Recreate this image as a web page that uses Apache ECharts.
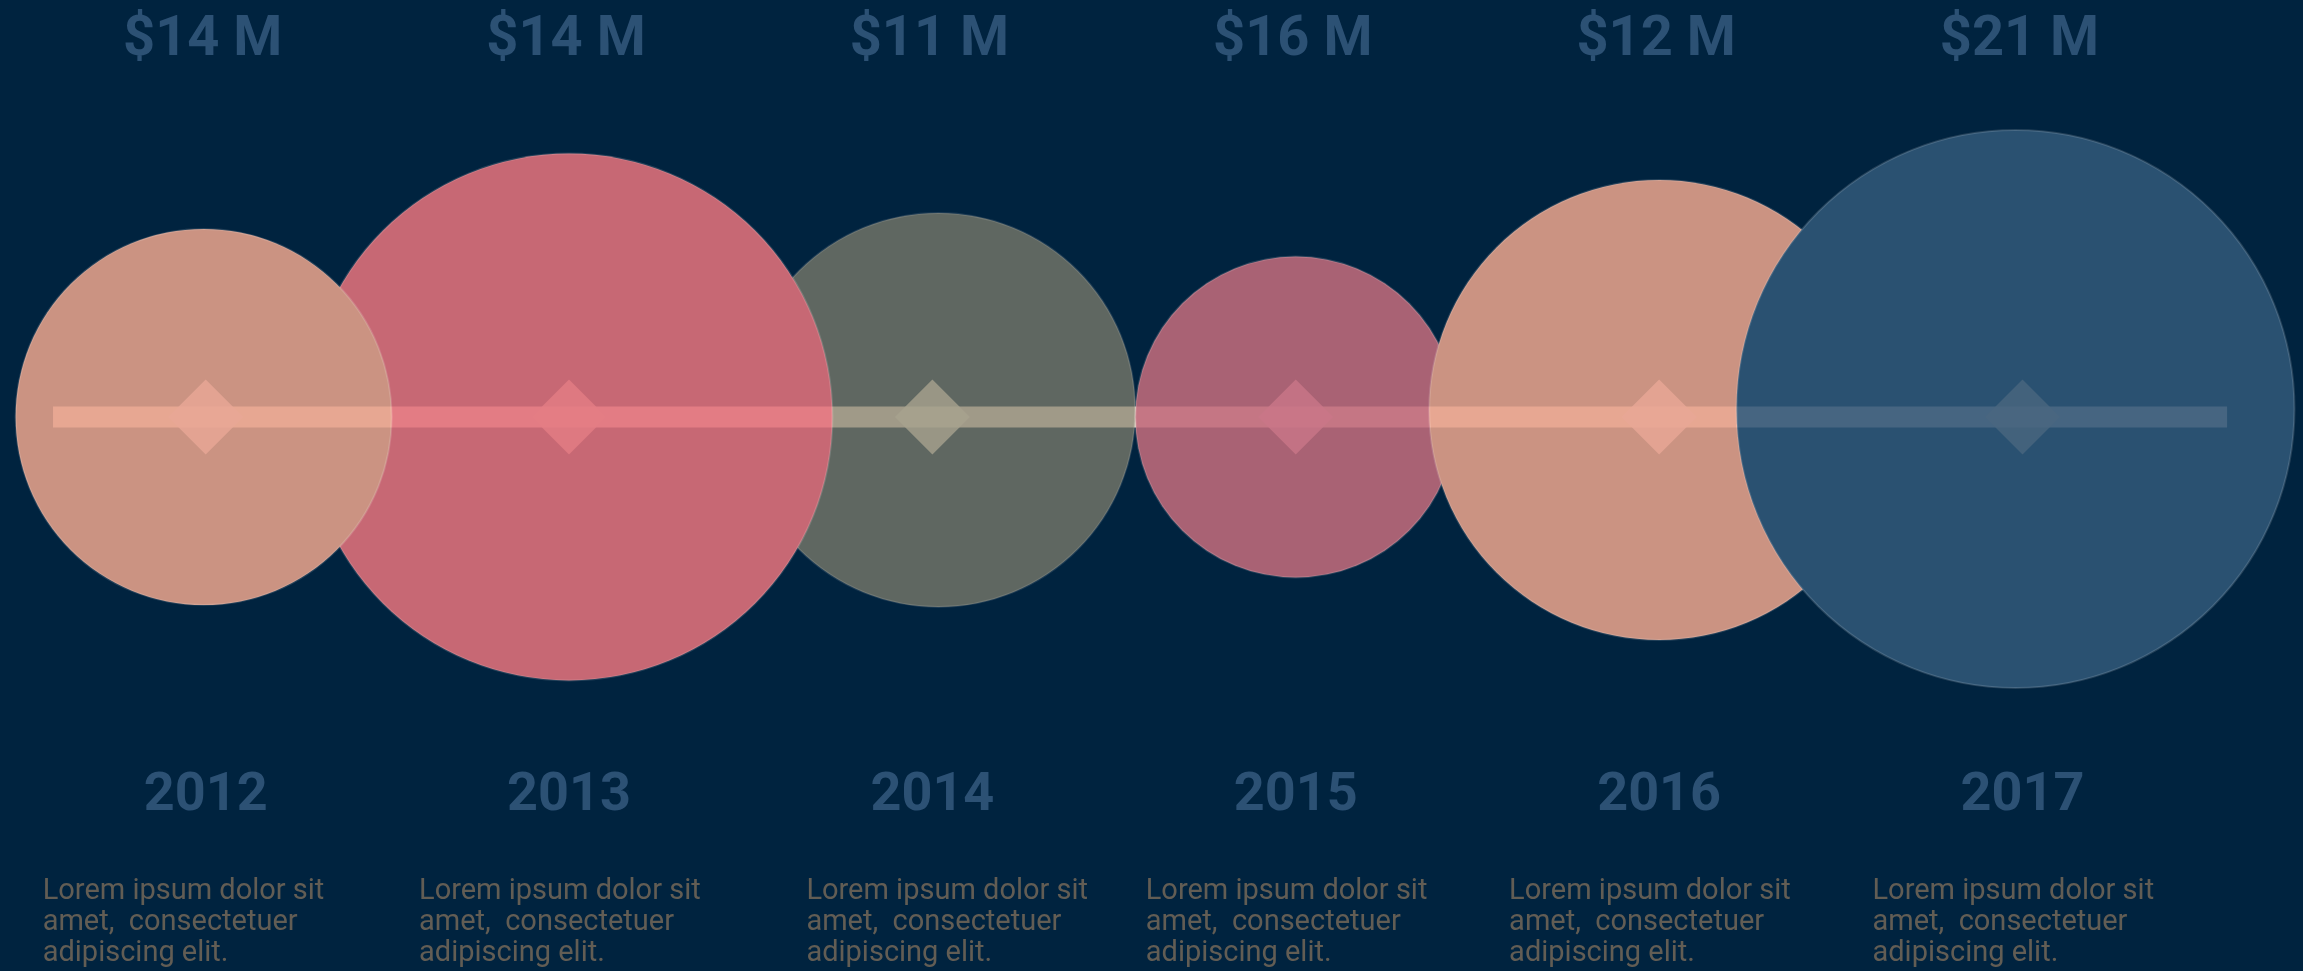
<!DOCTYPE html>
<html>
<head>
<meta charset="utf-8">
<title>Timeline 2012-2017</title>
<script src="https://cdn.jsdelivr.net/npm/echarts@6/dist/echarts.min.js"></script>
<style>
    html, body { margin: 0; padding: 0; background: #00233f; }
    #chart { width: 2303px; height: 971px; }
</style>
</head>
<body>
<div id="chart"></div>
<script>
// data
var years = ['2012', '2013', '2014', '2015', '2016', '2017'];
var revenue = [14, 14, 11, 16, 12, 21];
var bubbleWeight = [0.674, 0.944, 0.706, 0.575, 0.824, 1.0];
var descText = [
    'Lorem ipsum dolor sit\namet,  consectetuer\nadipiscing elit.',
    'Lorem ipsum dolor sit\namet,  consectetuer\nadipiscing elit.',
    'Lorem ipsum dolor sit\namet,  consectetuer\nadipiscing elit.',
    'Lorem ipsum dolor sit\namet,  consectetuer\nadipiscing elit.',
    'Lorem ipsum dolor sit\namet,  consectetuer\nadipiscing elit.',
    'Lorem ipsum dolor sit\namet,  consectetuer\nadipiscing elit.'
];

// layout / style
var xMin = -0.566, xMax = 5.772;
var lineStart = -0.42, lineEnd = 5.563;
var maxDiameter = 558;
var barHeight = 21;
var drawOrder = [2, 1, 0, 3, 4, 5];
var circleShift = [[-2, 0], [0, 0], [6, -7], [0, 0], [0, -7], [-7, -8]];
var circleColors = ['#cb9382', '#c76874', '#77786a', '#a96274', '#cb9382', '#2a5171'];
var circleOpacity = [1, 1, 0.8, 1, 1, 1];
var diamondColors = ['#e8a896', '#e47d84', '#a7a28e', '#c97788', '#e8a896', '#4a6680'];
var descNudge = [-13, 0, 24, 0, 0, 0];
var labelBlue = '#375d82';
var descColor = '#7b6b5a';

(function () {
    var myChart = echarts.init(document.getElementById('chart'));

    function barItem(color) {
        return function (params, api) {
            var p0 = api.coord([api.value(0), 0]);
            var p1 = api.coord([api.value(1), 0]);
            return {
                type: 'rect',
                shape: { x: p0[0], y: p0[1] - barHeight / 2, width: p1[0] - p0[0], height: barHeight },
                style: { fill: color }
            };
        };
    }

    var circleData = drawOrder.map(function (i) {
        return {
            value: [i, 0],
            symbolSize: maxDiameter * bubbleWeight[i],
            symbolOffset: circleShift[i],
            itemStyle: { color: circleColors[i], opacity: circleOpacity[i] }
        };
    });

    var diamondData = years.map(function (y, i) {
        return { value: [i, 0], itemStyle: { color: diamondColors[i] } };
    });

    var valueData = revenue.map(function (v, i) {
        return { value: [i, 0], label: { formatter: '$' + v + ' M' } };
    });

    var yearData = years.map(function (y, i) {
        return { value: [i, 0], label: { formatter: y } };
    });

    var descData = descText.map(function (t, i) {
        return { value: [i, 0], label: { formatter: t, offset: [-150 + descNudge[i], 459] } };
    });

    var option = {
        backgroundColor: '#00233f',
        animation: false,
        grid: { left: 0, right: 0, top: 0, bottom: 137 },
        xAxis: { type: 'value', min: xMin, max: xMax, show: false },
        yAxis: { type: 'value', min: -1, max: 1, show: false },
        series: [
            {
                type: 'custom',
                silent: true,
                z: 1,
                renderItem: barItem('#b9bead'),
                data: [[lineStart, lineEnd]]
            },
            {
                type: 'scatter',
                silent: true,
                z: 2,
                symbol: 'circle',
                itemStyle: { borderColor: 'rgba(255,255,255,0.14)', borderWidth: 2 },
                data: circleData
            },
            {
                // light bar added on top of the circles
                type: 'custom',
                silent: true,
                z: 3,
                blendMode: 'lighter',
                renderItem: barItem('#1c1410'),
                data: [[lineStart, lineEnd]]
            },
            {
                type: 'scatter',
                silent: true,
                z: 4,
                symbol: 'diamond',
                symbolSize: [75, 75],
                data: diamondData
            },
            {
                type: 'scatter',
                silent: true,
                z: 5,
                symbolSize: 0,
                label: {
                    show: true,
                    position: 'inside',
                    offset: [-3, -376],
                    color: labelBlue,
                    fontFamily: 'Roboto',
                    fontWeight: 'bold',
                    fontSize: 56
                },
                data: valueData
            },
            {
                type: 'scatter',
                silent: true,
                z: 5,
                symbolSize: 0,
                label: {
                    show: true,
                    position: 'inside',
                    offset: [0, 379],
                    color: labelBlue,
                    fontFamily: 'Roboto',
                    fontWeight: 'bold',
                    fontSize: 54
                },
                data: yearData
            },
            {
                type: 'scatter',
                silent: true,
                z: 5,
                symbolSize: 0,
                label: {
                    show: true,
                    position: 'inside',
                    align: 'left',
                    verticalAlign: 'top',
                    color: descColor,
                    fontFamily: 'Roboto',
                    fontSize: 29,
                    lineHeight: 31
                },
                data: descData
            }
        ]
    };
    myChart.setOption(option);
    window.addEventListener('resize', function () {
        myChart.resize();
    });
})();
</script>
</body>
</html>
